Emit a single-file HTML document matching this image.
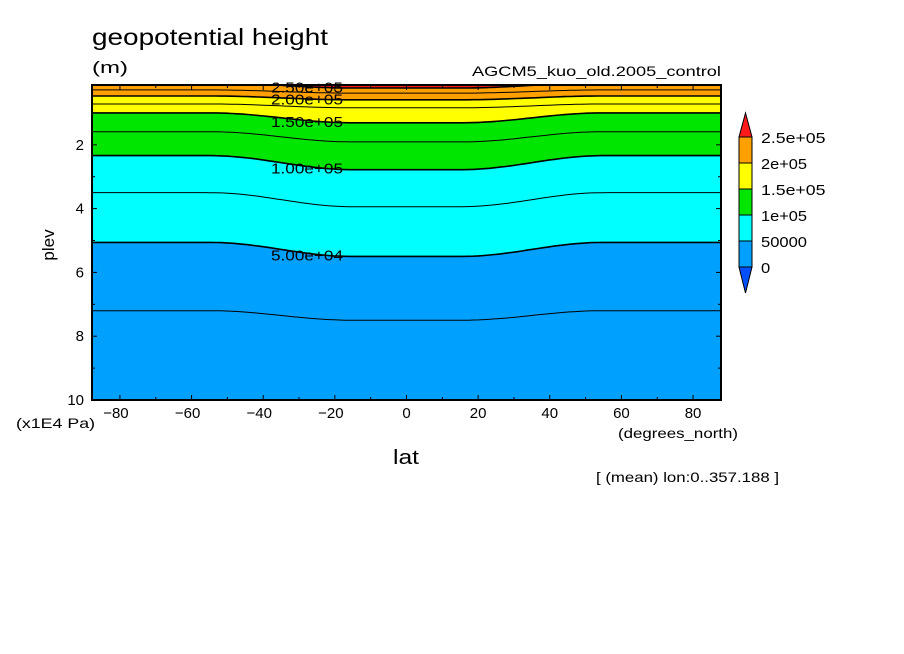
<!DOCTYPE html>
<html><head><meta charset="utf-8"><style>
html,body{margin:0;padding:0;background:#fff;}
svg{display:block;font-family:"Liberation Sans",sans-serif;}
</style></head><body>
<svg id="chart" width="904" height="654" viewBox="0 0 904 654" xmlns="http://www.w3.org/2000/svg">
<text x="92" y="45" font-size="23" textLength="236" lengthAdjust="spacingAndGlyphs">geopotential height</text>
<text x="92" y="73" font-size="17" textLength="36" lengthAdjust="spacingAndGlyphs">(m)</text>
<text x="472" y="76" font-size="14" textLength="249" lengthAdjust="spacingAndGlyphs">AGCM5_kuo_old.2005_control</text>
<g id="plot"></g>
<g id="cbar"></g>
<text x="54" y="245" font-size="17" text-anchor="middle" transform="rotate(-90 54 245)">plev</text>
<text x="16" y="428" font-size="14" textLength="79" lengthAdjust="spacingAndGlyphs">(x1E4 Pa)</text>
<text x="618" y="438" font-size="14" textLength="120" lengthAdjust="spacingAndGlyphs">(degrees_north)</text>
<text x="393" y="464" font-size="20" textLength="26" lengthAdjust="spacingAndGlyphs">lat</text>
<text x="596" y="482" font-size="14" textLength="183" lengthAdjust="spacingAndGlyphs">[ (mean) lon:0..357.188 ]</text>
</svg>
<script>
// contour levels and their plev positions (x1E4 Pa) at poles (edge) and equator (center)
const levels = [25000, 50000, 75000, 100000, 125000, 150000, 175000, 200000, 225000, 250000];
const edgePlev = [7.2, 5.06, 3.5, 2.34, 1.59, 1.0, 0.72, 0.47, 0.28, 0.05];
const centerPlev = [7.5, 5.5, 3.94, 2.78, 1.91, 1.31, 0.84, 0.59, 0.38, 0.22];
const fillLevels = [50000, 100000, 150000, 200000, 250000];
const fillColors = ["#00ffff", "#00e600", "#ffff00", "#ffa000", "#ff1a1a"];
const labelLevels = [50000, 100000, 150000, 200000, 250000];
const labelTexts = ["5.00e+04", "1.00e+05", "1.50e+05", "2.00e+05", "2.50e+05"];
const xTicks = [-80, -60, -40, -20, 0, 20, 40, 60, 80];
const yTicks = [2, 4, 6, 8, 10];
const cbarLabels = ["2.5e+05", "2e+05", "1.5e+05", "1e+05", "50000", "0"];
const cbarColors = ["#ffa000", "#ffff00", "#00e600", "#00ffff", "#00a0ff"];

const NS = "http://www.w3.org/2000/svg";
const X0 = 92, X1 = 721, Y0 = 85, Y1 = 400;
const LATMIN = -87.8, LATMAX = 87.8;
const xs = lat => X0 + (lat - LATMIN) / (LATMAX - LATMIN) * (X1 - X0);
const ys = p => 81 + p * 31.9;
function mk(tag, attrs, parent) { const e = document.createElementNS(NS, tag); for (const k in attrs) e.setAttribute(k, attrs[k]); parent.appendChild(e); return e; }
function blend(lat) { const a = Math.abs(lat); if (a <= 15) return 1; if (a >= 55) return 0; return 0.5 + 0.5 * Math.cos((a - 15) / 40 * Math.PI); }
function plevAt(i, lat) { const w = blend(lat); return edgePlev[i] * (1 - w) + centerPlev[i] * w; }
function linePts(i) { const pts = []; for (let lat = LATMIN; lat <= LATMAX + 0.01; lat += 1.5) { const y = Math.max(Y0, Math.min(Y1, ys(plevAt(i, lat)))); pts.push([xs(lat), y]); } return pts; }

const plot = document.getElementById("plot");
const defs = mk("defs", {}, plot);
const cp = mk("clipPath", {id: "clip"}, defs);
mk("rect", {x: X0, y: Y0, width: X1 - X0, height: Y1 - Y0}, cp);
const g = mk("g", {"clip-path": "url(#clip)"}, plot);
const bg = mk("rect", {x: X0, y: Y0, width: X1 - X0, height: Y1 - Y0, fill: "#00a0ff"}, g);


fillLevels.forEach((L, k) => {
  const i = levels.indexOf(L);
  const pts = linePts(i);
  const d = "M" + X0 + "," + Y0 + " L" + pts.map(p => p[0].toFixed(1) + "," + p[1].toFixed(1)).join(" L") + " L" + X1 + "," + Y0 + "Z";
  const p = mk("path", {d: d, fill: fillColors[k]}, g);
  
  
});
levels.forEach((L, i) => {
  const pts = linePts(i);
  const major = labelLevels.indexOf(L) >= 0;
  const p = mk("polyline", {points: pts.map(q => q[0].toFixed(1) + "," + q[1].toFixed(1)).join(" "), fill: "none", stroke: "#000", "stroke-width": major ? 1.6 : 1}, g);
  
  
});
labelLevels.forEach((L, k) => {
  const i = levels.indexOf(L);
  const y = ys(plevAt(i, -22)) + 5;
  const t = mk("text", {x: 271, y: y.toFixed(1), "font-size": 15, textLength: 72, lengthAdjust: "spacingAndGlyphs"}, plot);
  t.textContent = labelTexts[k];
  
  
});
mk("rect", {x: X0, y: Y0, width: X1 - X0, height: Y1 - Y0, fill: "none", stroke: "#000", "stroke-width": 2}, plot);
for (let lat = -80; lat <= 80; lat += 10) {
  const len = lat % 20 === 0 ? 5 : 3;
  mk("line", {x1: xs(lat), x2: xs(lat), y1: Y1, y2: Y1 - len, stroke: "#000"}, plot);
  mk("line", {x1: xs(lat), x2: xs(lat), y1: Y0, y2: Y0 + len, stroke: "#000"}, plot);
}
xTicks.forEach(v => {
  const t = mk("text", {x: xs(v) - (v < 0 ? 4 : 0), y: 418, "font-size": 15, "text-anchor": "middle"}, plot);
  t.textContent = v < 0 ? "\u2212" + (-v) : String(v);
  
  
});
for (let p = 1; p <= 9; p++) {
  const len = p % 2 === 0 ? 5 : 3;
  mk("line", {x1: X0, x2: X0 + len, y1: ys(p), y2: ys(p), stroke: "#000"}, plot);
  mk("line", {x1: X1, x2: X1 - len, y1: ys(p), y2: ys(p), stroke: "#000"}, plot);
}
yTicks.forEach(v => {
  const t = mk("text", {x: 84, y: ys(v) + 5, "font-size": 15, "text-anchor": "end"}, plot);
  t.textContent = String(v);
  
  
});

// colorbar
const cb = document.getElementById("cbar");
const CX0 = 739, CX1 = 752, CTOP = 137, CH = 26;
const up = mk("polygon", {points: `${CX0},${CTOP} ${CX1},${CTOP} ${(CX0 + CX1) / 2},113`, fill: "#ff1a1a", stroke: "#000"}, cb);


cbarColors.forEach((c, k) => {
  const r = mk("rect", {x: CX0, y: CTOP + k * CH, width: CX1 - CX0, height: CH, fill: c, stroke: "#000"}, cb);
  
  
});
const yb = CTOP + cbarColors.length * CH;
const dn = mk("polygon", {points: `${CX0},${yb} ${CX1},${yb} ${(CX0 + CX1) / 2},293`, fill: "#0050ff", stroke: "#000"}, cb);


cbarLabels.forEach((s, k) => {
  const t = mk("text", {x: 761, y: CTOP + k * CH + 6, "font-size": 15, textLength: s.length * 9.2, lengthAdjust: "spacingAndGlyphs"}, cb);
  t.textContent = s;
  
  
});
</script>
</body></html>
